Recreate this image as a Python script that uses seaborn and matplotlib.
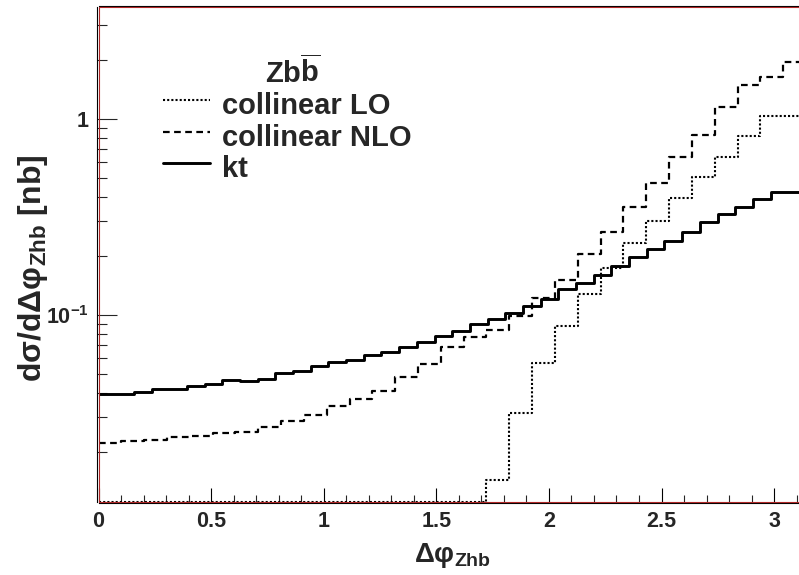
import numpy as np
import matplotlib
matplotlib.use("Agg")
import matplotlib.pyplot as plt
import seaborn as sns
import pandas as pd
from matplotlib.lines import Line2D
from matplotlib.patches import Rectangle
from matplotlib.ticker import FixedLocator, FixedFormatter, MultipleLocator, LogLocator, NullFormatter

# ---------------- data ----------------
kt_values = [0.0395, 0.0395, 0.0406, 0.0418, 0.0418, 0.0434, 0.0443, 0.0466, 0.0462, 0.0470,
             0.0504, 0.0518, 0.0549, 0.0578, 0.0591, 0.0625, 0.0650, 0.0689, 0.0726, 0.0784,
             0.0829, 0.0897, 0.0958, 0.1020, 0.1111, 0.1204, 0.1352, 0.1451, 0.1600, 0.1784,
             0.1970, 0.2172, 0.2391, 0.2661, 0.2972, 0.3265, 0.3569, 0.3906, 0.4256, 0.4256]
nlo_values = [0.0222, 0.0226, 0.0230, 0.0237, 0.0241, 0.0249, 0.0254, 0.0269, 0.0286, 0.0307,
              0.0341, 0.0371, 0.0411, 0.0483, 0.0560, 0.0684, 0.0769, 0.0838, 0.0988, 0.1221,
              0.1509, 0.2040, 0.2642, 0.3544, 0.4732, 0.6421, 0.8286, 1.1555, 1.491, 1.644, 1.960]
lo_values = [0, 0, 0, 0, 0, 0, 0, 0, 0, 0, 0, 0, 0, 0, 0, 0, 0,
             0.0144, 0.0317, 0.0567, 0.0877, 0.1275, 0.1731, 0.2338, 0.3029, 0.3938,
             0.5042, 0.6421, 0.8219, 1.036, 1.036]

x_ticks = [0, 0.5, 1, 1.5, 2, 2.5, 3]
x_tick_labels = ["0", "0.5", "1", "1.5", "2", "2.5", "3"]
y_ticks = [0.1, 1]
y_tick_labels = [r"$\mathbf{10^{-1}}$", "1"]
legend_title = r"Zb$\overline{\mathbf{b}}$"
legend_labels = ["collinear LO", "collinear NLO", "kt"]
x_label = r"Δφ$_{\mathbf{Zhb}}$"
y_label = r"dσ/dΔφ$_{\mathbf{Zhb}}$ [nb]"

x_min, x_max = 0.0, np.pi
y_min, y_max = 0.0111, 3.72
n_kt_bins = 40
n_coll_bins = 31

# ---------------- style ----------------
sns.set_theme(style="ticks")
plt.rcParams.update({
    "font.family": ["Liberation Sans", "DejaVu Sans"],
    "font.weight": "bold",
    "mathtext.fontset": "custom",
    "mathtext.rm": "Liberation Sans:bold",
    "mathtext.bf": "Liberation Sans:bold",
    "mathtext.it": "Liberation Sans:italic:bold",
    "mathtext.sf": "Liberation Sans:bold",
    "mathtext.default": "bf",
})

W, H = 799, 575
fig = plt.figure(figsize=(W / 100, H / 100), dpi=100)
fig.patch.set_facecolor("white")

def fx(px):
    return px / W

def fy(py):
    return 1 - py / H

ax_left, ax_right, ax_top, ax_bottom = 98.5, 806.0, 7.0, 502.0
ax = fig.add_axes([fx(ax_left), fy(ax_bottom), (ax_right - ax_left) / W, (ax_bottom - ax_top) / H])
ax.set_facecolor("white")

kt_edges = list(np.linspace(x_min, x_max, n_kt_bins + 1))
coll_edges = list(np.linspace(x_min, x_max, n_coll_bins + 1))

kt_centers = 0.5 * (np.array(kt_edges[:-1]) + np.array(kt_edges[1:]))
coll_centers = 0.5 * (np.array(coll_edges[:-1]) + np.array(coll_edges[1:]))

# ROOT draws empty bins of a log-scale histogram along the bottom of the frame
df_kt = pd.DataFrame({"x": kt_centers, "w": kt_values})
df_nlo = pd.DataFrame({"x": coll_centers, "w": nlo_values})
df_lo = pd.DataFrame({"x": coll_centers, "w": np.clip(lo_values, y_min, None)})

lo_style = dict(color="black", linewidth=1.5, linestyle=(0, (1, 1)))
nlo_style = dict(color="black", linewidth=1.6, linestyle=(0, (3, 2)))
kt_style = dict(color="black", linewidth=2.1, linestyle="-")

sns.histplot(data=df_lo, x="x", weights="w", bins=coll_edges, element="step", fill=False, ax=ax, **lo_style)
sns.histplot(data=df_nlo, x="x", weights="w", bins=coll_edges, element="step", fill=False, ax=ax, **nlo_style)
sns.histplot(data=df_kt, x="x", weights="w", bins=kt_edges, element="step", fill=False, ax=ax, **kt_style)

ax.set_yscale("log")
ax.set_xlim(x_min, x_max)
ax.set_ylim(y_min, y_max)

# ticks
ax.xaxis.set_major_locator(FixedLocator(x_ticks))
ax.xaxis.set_major_formatter(FixedFormatter(x_tick_labels))
ax.xaxis.set_minor_locator(MultipleLocator(0.1))
ax.yaxis.set_major_locator(FixedLocator(y_ticks))
ax.yaxis.set_major_formatter(FixedFormatter(y_tick_labels))
ax.yaxis.set_minor_locator(LogLocator(base=10, subs=np.arange(2, 10)))
ax.yaxis.set_minor_formatter(NullFormatter())

ax.tick_params(axis="x", which="major", direction="in", length=11, width=0.8, pad=6,
               labelsize=15.5, top=False, color="black")
ax.tick_params(axis="x", which="minor", direction="in", length=5.5, width=0.8, top=False)
ax.tick_params(axis="y", which="major", direction="in", length=14.5, width=0.8, pad=6,
               labelsize=15.5, right=False)
ax.tick_params(axis="y", which="minor", direction="in", length=7.2, width=0.8, right=False)
for lab in ax.get_xticklabels() + ax.get_yticklabels():
    lab.set_fontweight("bold")

for s in ax.spines.values():
    s.set_color("black")
    s.set_linewidth(0.8)
    s.set_position(("outward", 0.8))
ax.spines["right"].set_visible(False)
ax.add_patch(Rectangle((0, 0), 1, 1, transform=ax.transAxes, fill=False,
                       edgecolor="#b02828", linewidth=0.8, clip_on=False, zorder=5))

ax.set_xlabel(x_label, fontsize=20, fontweight="bold")
ax.set_ylabel(y_label, fontsize=23, fontweight="bold")
ax.xaxis.set_label_coords((452 - ax_left) / (ax_right - ax_left), (ax_bottom - 555) / (ax_bottom - ax_top))
ax.yaxis.set_label_coords((33 - ax_left) / (ax_right - ax_left), (ax_bottom - 268) / (ax_bottom - ax_top))
ax.xaxis.label.set_va("center")
ax.yaxis.label.set_va("center")

# legend (ROOT-like, no box)
fig.text(fx(293), fy(83), legend_title, fontsize=21, fontweight="bold", ha="center", va="baseline")
rows_y = [100, 132, 163]
text_baselines = [114, 146, 177]
styles = [lo_style, nlo_style, kt_style]
for yy, yb, lab, st in zip(rows_y, text_baselines, legend_labels, styles):
    fig.add_artist(Line2D([fx(163), fx(210)], [fy(yy), fy(yy)], transform=fig.transFigure, **st))
    fig.text(fx(222), fy(yb), lab, fontsize=21, fontweight="bold", ha="left", va="baseline")

fig.savefig("out.png", dpi=100, facecolor="white")
